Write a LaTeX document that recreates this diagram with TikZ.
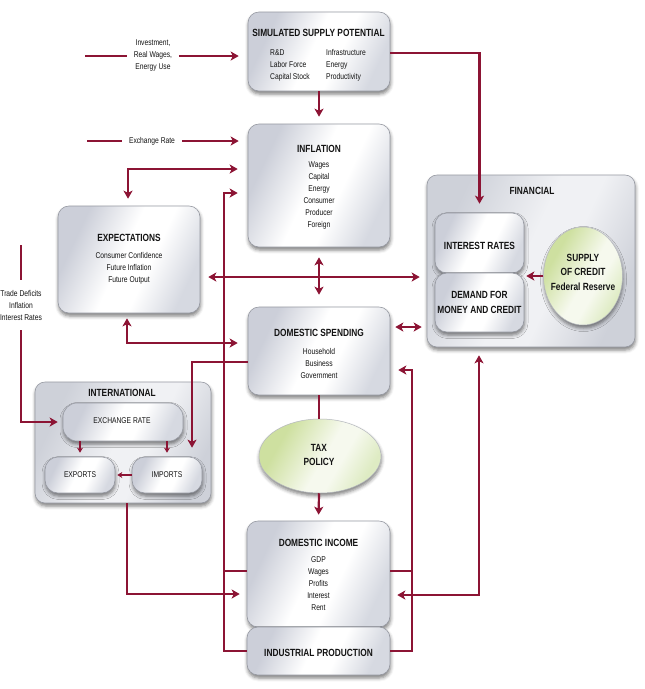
\documentclass[tikz,border=0pt]{standalone}
\usepackage{fontspec}
\setmainfont{Liberation Sans}[FakeStretch=0.8]
\usetikzlibrary{arrows.meta,shadows.blur,shapes.geometric,calc}
\definecolor{conn}{RGB}{140,20,52}
\definecolor{boxline}{RGB}{150,153,162}
\definecolor{boxD}{RGB}{204,207,217}
\definecolor{boxM}{RGB}{214,217,225}
\definecolor{grpD}{RGB}{206,209,217}
\definecolor{grpL}{RGB}{240,241,244}
\definecolor{grnD}{RGB}{206,224,160}
\definecolor{grnL}{RGB}{246,249,238}
\definecolor{grnM}{RGB}{222,235,195}
\definecolor{txt}{RGB}{20,20,20}
\pgfdeclarehorizontalshading{boxsh}{100bp}{color(0bp)=(boxD); color(28bp)=(boxD); color(47bp)=(white); color(58bp)=(white); color(74bp)=(boxM); color(100bp)=(boxM)}
\pgfdeclarehorizontalshading{grpsh}{100bp}{color(0bp)=(grpD); color(27bp)=(grpD); color(48bp)=(grpL); color(58bp)=(grpL); color(75bp)=(grpD); color(100bp)=(grpD)}
\pgfdeclarehorizontalshading{grnsh}{100bp}{color(0bp)=(grnD); color(30bp)=(grnD); color(52bp)=(grnL); color(60bp)=(grnL); color(74bp)=(grnM); color(100bp)=(grnM)}
\begin{document}
\begin{tikzpicture}[x=1pt,y=-1pt,
 every node/.style={inner sep=0pt,text=txt},
 >={Stealth[length=8pt,width=9pt,inset=2pt]},
 boxshadow/.style={blur shadow={shadow xshift=0.5pt,shadow yshift=-3pt,shadow blur radius=3.5pt,shadow opacity=50}},
 box/.style={draw=boxline,line width=0.6pt,rounded corners=11pt,shading=boxsh,shading angle=-25,boxshadow},
 grp/.style={draw=boxline,line width=0.6pt,rounded corners=10pt,shading=grpsh,shading angle=-25,boxshadow},
 ell/.style={ellipse,draw=boxline!70,line width=0.5pt,shading=grnsh,shading angle=-30,boxshadow},
 ttl/.style={font=\fontsize{10.4}{14.5}\selectfont\bfseries,align=center},
 itm/.style={font=\fontsize{8.4}{12}\selectfont,align=center},
 ln/.style={draw=conn,line width=2.2pt},
 sarr/.style={draw=conn,line width=1.6pt,-{Stealth[length=5pt,width=6pt,inset=1.5pt]}}
]
\useasboundingbox (0,0) rectangle (645,689);

% ---------- groups ----------
\node[grp,minimum width=208,minimum height=172] (fin) at (531,261) {};
\node[grp,minimum width=176,minimum height=121] (intl) at (123,442.5) {};

% ---------- boxes ----------
\node[box,minimum width=142,minimum height=79] (ssp) at (319,51.5) {};
\node[box,minimum width=142,minimum height=123] (infl) at (319,185.5) {};
\node[box,minimum width=142,minimum height=107] (expt) at (129,259.5) {};
\node[box,minimum width=142,minimum height=88] (ds) at (319,351) {};
\node[box,minimum width=143,minimum height=106] (income) at (318.5,574) {};
\node[box,minimum width=143,minimum height=48] (indprod) at (318.5,651) {};
\node[box,rounded corners=12pt,minimum width=89,minimum height=60] (ir) at (479.5,243) {};
\node[box,rounded corners=12pt,minimum width=89,minimum height=59] (dmc) at (479.5,302.5) {};
\node[box,rounded corners=14pt,minimum width=120,minimum height=38] (exr) at (123,422) {};
\node[box,rounded corners=13pt,minimum width=70,minimum height=36] (exp) at (80,475) {};
\node[box,rounded corners=13pt,minimum width=70,minimum height=36] (imp) at (167,475) {};
\node[ell,minimum width=79,minimum height=98] (soc) at (583,276) {};
\node[ell,minimum width=122,minimum height=74] (tax) at (320,456) {};

% ---------- texts ----------
\node[ttl] (sspT) at (318.5,33) {SIMULATED SUPPLY POTENTIAL};
\node[itm,align=left,anchor=west] (sspA) at (270,65) {R\&D\\Labor Force\\Capital Stock};
\node[itm,align=left,anchor=west] (sspB) at (326,65) {Infrastructure\\Energy\\Productivity};
\node[ttl] (inflT) at (319,149) {INFLATION};
\node[itm] (inflI) at (319,195) {Wages\\Capital\\Energy\\Consumer\\Producer\\Foreign};
\node[ttl] (exptT) at (129,238) {EXPECTATIONS};
\node[itm] (exptI) at (129,268) {Consumer Confidence\\Future Inflation\\Future Output};
\node[ttl] (dsT) at (319,333) {DOMESTIC SPENDING};
\node[itm] (dsI) at (319,363) {Household\\Business\\Government};
\node[ttl] (incT) at (318.5,543) {DOMESTIC INCOME};
\node[itm] (incI) at (318.5,584) {GDP\\Wages\\Profits\\Interest\\Rent};
\node[ttl] (ipT) at (318.5,653) {INDUSTRIAL PRODUCTION};
\node[ttl] (finT) at (532,191) {FINANCIAL};
\node[ttl] (irT) at (479.5,246) {INTEREST RATES};
\node[ttl] (dmcT) at (479.5,302.5) {DEMAND FOR\\MONEY AND CREDIT};
\node[ttl] (socT) at (583,272) {SUPPLY\\OF CREDIT\\Federal Reserve};
\node[ttl] (taxT) at (319,455) {TAX\\POLICY};
\node[ttl] (intlT) at (122,393) {INTERNATIONAL};
\node[itm] (exrT) at (122,421) {EXCHANGE RATE};
\node[itm] (expT) at (80,475) {EXPORTS};
\node[itm] (impT) at (167,475) {IMPORTS};

% ---------- outside labels ----------
\node[itm,inner xsep=6.5pt] (invL) at (153,55) {Investment,\\Real Wages,\\Energy Use};
\node[itm,inner xsep=7pt] (exL) at (152,141) {Exchange Rate};
\node[itm,inner ysep=10pt] (tdL) at (21,305) {Trade Deficits\\Inflation\\Interest Rates};
\coordinate (invS) at (85,56);
\coordinate (exS) at (87,141);
\coordinate (tdS) at (21,245);
\coordinate (Lup) at (224,193);
\coordinate (Rup) at (412,370);

% ---------- connectors ----------
\draw[ln] (invS) -- (invL.west |- invS);
\draw[ln,->,shorten >=9pt] (invL.east |- invS) -- (ssp.west |- invS);
\draw[ln] (exS) -- (exL.west |- exS);
\draw[ln,->,shorten >=9pt] (exL.east |- exS) -- (infl.west |- exS);
\draw[ln,->,shorten >=7pt] (ssp.south) -- (infl.north);
\draw[ln,->,shorten >=9pt] (ssp.east |- 0,53) -| (ir.north);
\draw[ln,<->,shorten <=7pt,shorten >=10pt] (expt.north -| 128,0) |- (infl.west |- 0,169);
\draw[ln,->,shorten >=10pt] (indprod.west) -| (Lup) -- (Lup -| infl.west);
\draw[ln] (income.west |- 0,571) -- (224,571);
\draw[ln,->,shorten >=8pt] (indprod.east) -| (Rup) -- (Rup -| ds.east);
\draw[ln] (income.east |- 0,571) -- (412,571);
\draw[ln,<->,shorten <=8pt,shorten >=7pt] (expt.east |- 0,277) -- (fin.west |- 0,277);
\draw[ln,<->,shorten <=10pt,shorten >=12pt] (infl.south) -- (ds.north);
\draw[ln,<->,shorten <=5pt,shorten >=10pt] (expt.south -| 127,0) |- (ds.west |- 0,343);
\draw[ln,<->,shorten <=5pt,shorten >=5pt] (ds.east |- 0,327) -- (fin.west |- 0,327);
\draw[ln,->,shorten >=9pt] (ds.west |- 0,362) -| (imp.north -| 192,0);
\draw[ln] (tdS) -- (tdL.north);
\draw[ln,->,shorten >=5pt] (tdL.south) |- (exr.west);
\draw[sarr,shorten >=4pt] (exp.north |- exr.south) -- (exp.north);
\draw[sarr,shorten >=4pt] (imp.north |- exr.south) -- (imp.north);
\draw[sarr,shorten >=2pt] (imp.west) -- (exp.east);
\draw[ln,->,shorten >=7pt] (intl.south -| 127,0) |- (income.west |- 0,594);
\draw[ln,<->,shorten <=8pt,shorten >=7pt] (fin.south -| 479,0) |- (income.east |- 0,595);
\draw[ln] (ds.south) -- (ds.south |- tax.north);
\draw[ln,->,shorten >=6pt] (tax.south -| ds.south) -- (income.north);
\draw[ln,->,shorten >=2pt] (soc.west) -- (soc.west -| ir.east);
\end{tikzpicture}
\end{document}
